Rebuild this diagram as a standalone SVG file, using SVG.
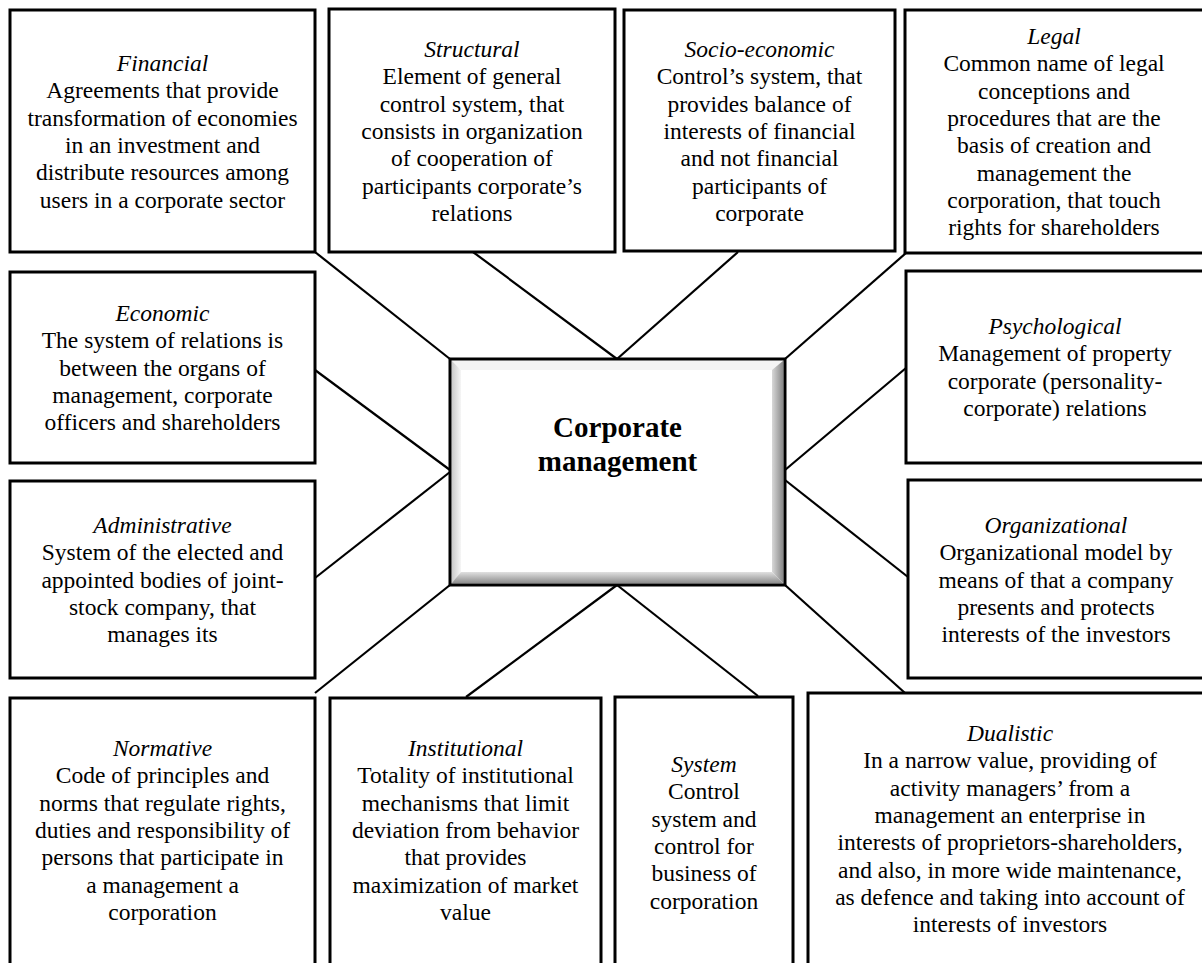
<svg xmlns="http://www.w3.org/2000/svg" width="1202" height="963" viewBox="0 0 1202 963">
<style>
.box{fill:#fff;stroke:#000;stroke-width:3}
.t{font-family:'Liberation Serif','Times New Roman','DejaVu Serif',serif;font-size:23.5px;fill:#000;text-anchor:middle}
.h{font-style:italic}
.c{stroke:#000;stroke-width:2.2;fill:none}
.main{font-family:'Liberation Serif','Times New Roman','DejaVu Serif',serif;font-size:29px;font-weight:bold;fill:#000;text-anchor:middle}
</style>
<defs>
<linearGradient id="gl" x1="0" y1="0" x2="1" y2="0"><stop offset="0" stop-color="#c8c8c8"/><stop offset="1" stop-color="#f6f6f6"/></linearGradient>
<linearGradient id="gr" x1="0" y1="0" x2="1" y2="0"><stop offset="0" stop-color="#d8d8d8"/><stop offset="1" stop-color="#858585"/></linearGradient>
<linearGradient id="gb" x1="0" y1="0" x2="0" y2="1"><stop offset="0" stop-color="#e0e0e0"/><stop offset="1" stop-color="#8a8a8a"/></linearGradient>
</defs>
<rect width="1202" height="963" fill="#fff"/>
<g id="connectors">
<line class="c" x1="315" y1="252" x2="450" y2="359"/>
<line class="c" x1="473" y1="252" x2="617" y2="359"/>
<line class="c" x1="738" y1="252" x2="617" y2="359"/>
<line class="c" x1="906" y1="253" x2="785" y2="359"/>
<line class="c" x1="315" y1="370" x2="450" y2="470"/>
<line class="c" x1="906" y1="368" x2="785" y2="470"/>
<line class="c" x1="315" y1="578" x2="450" y2="472"/>
<line class="c" x1="908" y1="577" x2="785" y2="480"/>
<line class="c" x1="315" y1="693" x2="450" y2="585"/>
<line class="c" x1="466" y1="697" x2="617" y2="585"/>
<line class="c" x1="758" y1="696" x2="617" y2="585"/>
<line class="c" x1="905" y1="693" x2="785" y2="585"/>
</g>
<g id="financial">
<rect class="box" x="10" y="10" width="305" height="242"/>
<text class="t" font-family="Liberation Serif, serif"><tspan class="h" x="162.5" y="71">Financial</tspan><tspan x="162.5" y="98.3">Agreements that provide</tspan><tspan x="162.5" y="125.6">transformation of economies</tspan><tspan x="162.5" y="152.9">in an investment and</tspan><tspan x="162.5" y="180.2">distribute resources among</tspan><tspan x="162.5" y="207.5">users in a corporate sector</tspan></text>
</g>
<g id="structural">
<rect class="box" x="329" y="9" width="286" height="243"/>
<text class="t"><tspan class="h" x="472" y="57">Structural</tspan><tspan x="472" y="84.3">Element of general</tspan><tspan x="472" y="111.6">control system, that</tspan><tspan x="472" y="138.9">consists in organization</tspan><tspan x="472" y="166.2">of cooperation of</tspan><tspan x="472" y="193.5">participants corporate’s</tspan><tspan x="472" y="220.8">relations</tspan></text>
</g>
<g id="socio-economic">
<rect class="box" x="624" y="10" width="271" height="241"/>
<text class="t"><tspan class="h" x="759.5" y="57">Socio-economic</tspan><tspan x="759.5" y="84.3">Control’s system, that</tspan><tspan x="759.5" y="111.6">provides balance of</tspan><tspan x="759.5" y="138.9">interests of financial</tspan><tspan x="759.5" y="166.2">and not financial</tspan><tspan x="759.5" y="193.5">participants of</tspan><tspan x="759.5" y="220.8">corporate</tspan></text>
</g>
<g id="legal">
<rect class="box" x="905" y="10" width="305" height="243"/>
<text class="t"><tspan class="h" x="1054" y="44">Legal</tspan><tspan x="1054" y="71.3">Common name of legal</tspan><tspan x="1054" y="98.6">conceptions and</tspan><tspan x="1054" y="125.9">procedures that are the</tspan><tspan x="1054" y="153.2">basis of creation and</tspan><tspan x="1054" y="180.5">management the</tspan><tspan x="1054" y="207.8">corporation, that touch</tspan><tspan x="1054" y="235.1">rights for shareholders</tspan></text>
</g>
<g id="economic">
<rect class="box" x="10" y="272" width="305" height="191"/>
<text class="t"><tspan class="h" x="162.5" y="321">Economic</tspan><tspan x="162.5" y="348.3">The system of relations is</tspan><tspan x="162.5" y="375.6">between the organs of</tspan><tspan x="162.5" y="402.9">management, corporate</tspan><tspan x="162.5" y="430.2">officers and shareholders</tspan></text>
</g>
<g id="psychological">
<rect class="box" x="906" y="271" width="304" height="192"/>
<text class="t"><tspan class="h" x="1055" y="334">Psychological</tspan><tspan x="1055" y="361.3">Management of property</tspan><tspan x="1055" y="388.6">corporate (personality-</tspan><tspan x="1055" y="415.9">corporate) relations</tspan></text>
</g>
<g id="administrative">
<rect class="box" x="10" y="481" width="305" height="197"/>
<text class="t"><tspan class="h" x="162.5" y="533">Administrative</tspan><tspan x="162.5" y="560.3">System of the elected and</tspan><tspan x="162.5" y="587.6">appointed bodies of joint-</tspan><tspan x="162.5" y="614.9">stock company, that</tspan><tspan x="162.5" y="642.2">manages its</tspan></text>
</g>
<g id="organizational">
<rect class="box" x="908" y="480" width="302" height="198"/>
<text class="t"><tspan class="h" x="1056" y="533">Organizational</tspan><tspan x="1056" y="560.3">Organizational model by</tspan><tspan x="1056" y="587.6">means of that a company</tspan><tspan x="1056" y="614.9">presents and protects</tspan><tspan x="1056" y="642.2">interests of the investors</tspan></text>
</g>
<g id="normative">
<rect class="box" x="10" y="698" width="305" height="290"/>
<text class="t"><tspan class="h" x="162.5" y="756">Normative</tspan><tspan x="162.5" y="783.3">Code of principles and</tspan><tspan x="162.5" y="810.6">norms that regulate rights,</tspan><tspan x="162.5" y="837.9">duties and responsibility of</tspan><tspan x="162.5" y="865.2">persons that participate in</tspan><tspan x="162.5" y="892.5">a management a</tspan><tspan x="162.5" y="919.8">corporation</tspan></text>
</g>
<g id="institutional">
<rect class="box" x="330" y="698" width="271" height="290"/>
<text class="t"><tspan class="h" x="465.5" y="756">Institutional</tspan><tspan x="465.5" y="783.3">Totality of institutional</tspan><tspan x="465.5" y="810.6">mechanisms that limit</tspan><tspan x="465.5" y="837.9">deviation from behavior</tspan><tspan x="465.5" y="865.2">that provides</tspan><tspan x="465.5" y="892.5">maximization of market</tspan><tspan x="465.5" y="919.8">value</tspan></text>
</g>
<g id="system">
<rect class="box" x="615" y="697" width="178" height="290"/>
<text class="t"><tspan class="h" x="704" y="772">System</tspan><tspan x="704" y="799.3">Control</tspan><tspan x="704" y="826.6">system and</tspan><tspan x="704" y="853.9">control for</tspan><tspan x="704" y="881.2">business of</tspan><tspan x="704" y="908.5">corporation</tspan></text>
</g>
<g id="dualistic">
<rect class="box" x="808" y="693" width="410" height="295"/>
<text class="t"><tspan class="h" x="1010" y="741">Dualistic</tspan><tspan x="1010" y="768.3">In a narrow value, providing of</tspan><tspan x="1010" y="795.6">activity managers’ from a</tspan><tspan x="1010" y="822.9">management an enterprise in</tspan><tspan x="1010" y="850.2">interests of proprietors-shareholders,</tspan><tspan x="1010" y="877.5">and also, in more wide maintenance,</tspan><tspan x="1010" y="904.8">as defence and taking into account of</tspan><tspan x="1010" y="932.1">interests of investors</tspan></text>
</g>
<g id="corporate-management">
<rect x="450" y="359" width="335" height="226" fill="#fff"/>
<polygon points="451.5,360.5 783.5,360.5 774,370 461,370" fill="#f4f4f4"/>
<polygon points="451.5,360.5 461,370 461,574 451.5,583.5" fill="url(#gl)"/>
<polygon points="783.5,360.5 783.5,583.5 772,572 772,370" fill="url(#gr)"/>
<polygon points="451.5,583.5 783.5,583.5 772,572 461,572" fill="url(#gb)"/>
<rect x="450" y="359" width="335" height="226" fill="none" stroke="#000" stroke-width="3"/>
<text class="main"><tspan x="617.5" y="437">Corporate</tspan><tspan x="617.5" y="471">management</tspan></text>
</g>
</svg>
